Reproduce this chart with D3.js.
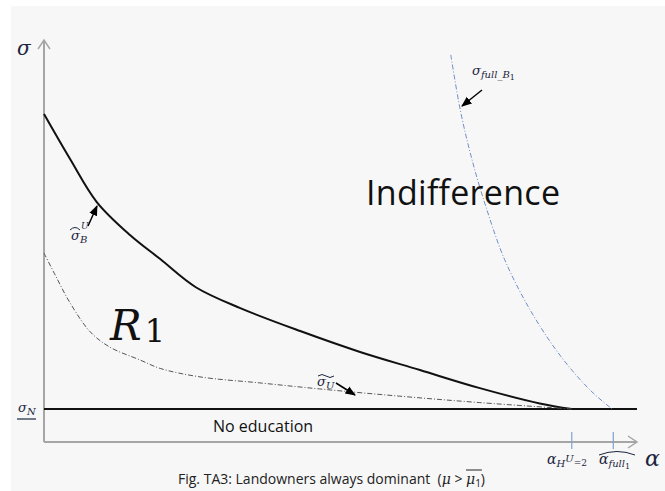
<!DOCTYPE html>
<html>
<head>
<meta charset="utf-8">
<script src="https://cdn.jsdelivr.net/npm/d3@7"></script>
<style>
  body { margin: 0; background: #fff; }
  svg { display: block; }
  .math { font-family: "DejaVu Serif", "Liberation Serif", serif; font-style: italic; fill: #1c2540; }
  .plain { font-family: "Open Sans", "Liberation Sans", sans-serif; fill: #111; }
</style>
</head>
<body>
<div id="chart"></div>
<script>
// curve values, alpha and sigma in arbitrary units (0..100)
const sigmaN = 8.2;
const alphaTicks = [89, 96];

const curveBU = [
  [0, 81.6], [4.4, 70.4], [8.9, 59.7], [14.5, 51.5], [19.6, 45.5], [25.6, 38.5],
  [33.1, 33.3], [43.2, 27.6], [53.3, 22.4], [63.4, 17.9], [73.5, 13.4], [83.6, 9.6], [89, 8.2]
];
const curveU = [
  [0, 47.0], [1.9, 41.5], [4.4, 34.6], [7.8, 27.4], [11.1, 23.6], [16.2, 20.4], [19.6, 18.3],
  [26.3, 16.2], [36.4, 14.7], [46.5, 13.2], [60, 11.4], [73.5, 9.8], [89, 8.2]
];
const curveFull = [
  [68.6, 96.3], [70.2, 82.6], [72.2, 70.1], [74.7, 57.7], [77.7, 45.3], [82.0, 32.8],
  [87.0, 21.6], [92.1, 12.9], [95.8, 8.2]
];

const W = 665, H = 491;
const svg = d3.select('#chart').append('svg').attr('width', W).attr('height', H);

svg.append('rect').attr('x', 11).attr('y', 6).attr('width', W - 11).attr('height', H - 6)
  .attr('fill', '#f7f7f7');

const x = d3.scaleLinear().domain([0, 100]).range([44, 637]);
const y = d3.scaleLinear().domain([0, 100]).range([442, 40]);

const defs = svg.append('defs');
defs.append('marker').attr('id', 'tri')
  .attr('viewBox', '0 0 10 10').attr('refX', 9).attr('refY', 5)
  .attr('markerWidth', 7).attr('markerHeight', 7).attr('orient', 'auto')
  .append('path').attr('d', 'M0,1 L10,5 L0,9 Z').attr('fill', '#000');

// axes
const axisColor = '#a6a6a6';
svg.append('line').attr('x1', x(0)).attr('y1', y(0)).attr('x2', x(0)).attr('y2', y(100))
  .attr('stroke', axisColor).attr('stroke-width', 2);
svg.append('path').attr('d', `M${x(0) - 6},${y(100) + 9} L${x(0)},${y(100)} L${x(0) + 6},${y(100) + 9}`)
  .attr('fill', 'none').attr('stroke', axisColor).attr('stroke-width', 1.5);
svg.append('line').attr('x1', x(0)).attr('y1', y(0)).attr('x2', x(100)).attr('y2', y(0))
  .attr('stroke', axisColor).attr('stroke-width', 2);
svg.append('path').attr('d', `M${x(100) - 9},${y(0) - 6} L${x(100)},${y(0)} L${x(100) - 9},${y(0) + 6}`)
  .attr('fill', 'none').attr('stroke', axisColor).attr('stroke-width', 1.5);

svg.selectAll('.tick').data(alphaTicks).join('line').attr('class', 'tick')
  .attr('x1', d => x(d)).attr('x2', d => x(d))
  .attr('y1', y(0) - 10).attr('y2', y(0) + 7)
  .attr('stroke', '#7fa2cf').attr('stroke-width', 1.2);

// sigma_N line
svg.append('line').attr('x1', x(0)).attr('x2', x(100)).attr('y1', y(sigmaN)).attr('y2', y(sigmaN))
  .attr('stroke', '#111').attr('stroke-width', 2);

const line = d3.line().x(d => x(d[0])).y(d => y(d[1])).curve(d3.curveCatmullRom.alpha(0.5));

svg.append('path').attr('d', line(curveBU))
  .attr('fill', 'none').attr('stroke', '#111').attr('stroke-width', 2);
svg.append('path').attr('d', line(curveU))
  .attr('fill', 'none').attr('stroke', '#555').attr('stroke-width', 1)
  .attr('stroke-dasharray', '5,2,1,2');
svg.append('path').attr('d', line(curveFull))
  .attr('fill', 'none').attr('stroke', '#6f8fc8').attr('stroke-width', 1)
  .attr('stroke-dasharray', '5,2,1,2');

// annotation arrows
const arrows = [
  [88, 226, 97, 206],
  [336, 383, 355, 395],
  [482, 90, 462, 106]
];
svg.selectAll('.arr').data(arrows).join('line').attr('class', 'arr')
  .attr('x1', d => d[0]).attr('y1', d => d[1]).attr('x2', d => d[2]).attr('y2', d => d[3])
  .attr('stroke', '#000').attr('stroke-width', 1.5).attr('marker-end', 'url(#tri)');

// text labels
svg.append('text').attr('class', 'math').attr('x', 17).attr('y', 55)
  .style('font-size', '20px').text('σ');
svg.append('text').attr('class', 'math').attr('x', 645).attr('y', 466)
  .style('font-size', '22px').text('α');

// sigma_N underlined
const sn = svg.append('text').attr('class', 'math').attr('x', 18).attr('y', 412).style('font-size', '13px');
sn.append('tspan').text('σ');
sn.append('tspan').attr('dy', 3).style('font-size', '10px').text('N');
svg.append('line').attr('x1', 17).attr('x2', 36).attr('y1', 419).attr('y2', 419)
  .attr('stroke', '#1c2540').attr('stroke-width', 1.2);

// sigma_B^U hat
const sb = svg.append('text').attr('class', 'math').attr('x', 71).attr('y', 240).style('font-size', '13px');
sb.append('tspan').text('σ');
sb.append('tspan').attr('dy', 3).style('font-size', '10px').text('B');
svg.append('text').attr('class', 'math').attr('x', 81).attr('y', 229).style('font-size', '9px').text('U');
svg.append('path').attr('d', 'M70,230 Q75,225 80,230').attr('fill', 'none').attr('stroke', '#1c2540');

// sigma_U tilde
const su = svg.append('text').attr('class', 'math').attr('x', 317).attr('y', 386).style('font-size', '13px');
su.append('tspan').text('σ');
su.append('tspan').attr('dy', 3).style('font-size', '10px').text('U');
svg.append('path').attr('d', 'M318,376 q4,-3 8,0 t8,0').attr('fill', 'none').attr('stroke', '#1c2540');

// sigma_full_B1
const sf = svg.append('text').attr('class', 'math').attr('x', 472).attr('y', 75).style('font-size', '13px');
sf.append('tspan').text('σ');
sf.append('tspan').attr('dy', 3).style('font-size', '10px').text('full_B');
sf.append('tspan').attr('dy', 2).style('font-size', '8px').style('font-style', 'normal').text('1');

// tick labels
const ta = svg.append('text').attr('class', 'math').attr('x', 547).attr('y', 464).style('font-size', '14px');
ta.append('tspan').text('α');
ta.append('tspan').attr('dy', 3).style('font-size', '10px').text('H');
ta.append('tspan').attr('dy', -5).style('font-size', '10px').text('U');
ta.append('tspan').attr('dy', 4).style('font-size', '9px').style('font-style', 'normal').text('=2');

const tf = svg.append('text').attr('class', 'math').attr('x', 599).attr('y', 464).style('font-size', '14px');
tf.append('tspan').text('α');
tf.append('tspan').attr('dy', 3).style('font-size', '10px').text('full');
tf.append('tspan').attr('dy', 2).style('font-size', '8px').style('font-style', 'normal').text('1');
svg.append('path').attr('d', 'M599,455 Q617,448 635,455').attr('fill', 'none').attr('stroke', '#1c2540');

// region labels
svg.append('text').attr('class', 'plain').attr('x', 366).attr('y', 205)
  .attr('textLength', 194).style('font-size', '34px').text('Indifference');
const r1 = svg.append('text').attr('class', 'math').attr('x', 110).attr('y', 340).style('font-size', '42px').style('fill', '#111');
r1.append('tspan').text('R');
r1.append('tspan').attr('dx', 3).attr('dy', 2).style('font-style', 'normal').style('font-size', '32px').text('1');

svg.append('text').attr('class', 'plain').attr('x', 213).attr('y', 432)
  .style('font-size', '16px').text('No education');

// caption, built piece by piece so the overline can sit on mu_1
let cx = 178;
const capY = 484;
const piece = (txt, cls, size, dy) => {
  const t = svg.append('text').attr('class', cls).attr('x', cx).attr('y', capY + (dy || 0))
    .style('font-size', size + 'px').style('fill', '#222').style('white-space', 'pre').text(txt);
  const w = t.node().getComputedTextLength();
  const x0 = cx;
  cx += w;
  return x0;
};
piece('Fig. TA3: Landowners always dominant\u00a0\u00a0(', 'plain', 14);
piece('μ', 'math', 14);
piece('\u00a0>\u00a0', 'plain', 14);
const muX = piece('μ', 'math', 14);
piece('1', 'plain', 10, 3);
const muEnd = cx;
piece(')', 'plain', 14);
svg.append('line').attr('x1', muX).attr('x2', muEnd + 1).attr('y1', 470).attr('y2', 470)
  .attr('stroke', '#222').attr('stroke-width', 1);
</script>
</body>
</html>
